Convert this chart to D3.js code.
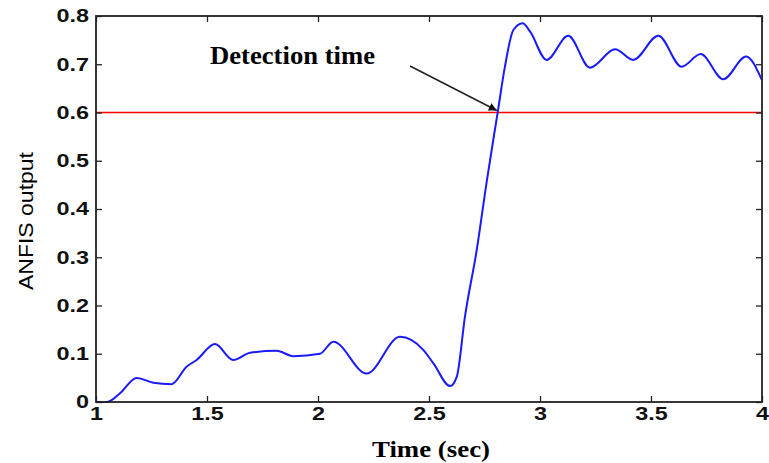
<!DOCTYPE html>
<html>
<head>
<meta charset="utf-8">
<script src="https://cdn.jsdelivr.net/npm/d3@7"></script>
<style>
  html, body { margin: 0; padding: 0; background: #fff; }
  svg { display: block; }
</style>
</head>
<body>
<svg id="chart" width="769" height="463"></svg>
<script>
// ANFIS output over time
const timeSec = [1.00, 1.05, 1.108, 1.183, 1.258, 1.34, 1.408, 1.453, 1.536, 1.618, 1.694, 1.814, 1.889, 2.009, 2.069, 2.219, 2.369, 2.474, 2.52, 2.595, 2.625, 2.662, 2.715, 2.761, 2.81, 2.842, 2.88, 2.922, 2.955, 3.03, 3.127, 3.225, 3.338, 3.42, 3.533, 3.638, 3.724, 3.826, 3.928, 4.00];
const anfisOut = [0.000, 0.000, 0.018, 0.050, 0.040, 0.037, 0.073, 0.087, 0.120, 0.087, 0.102, 0.106, 0.095, 0.100, 0.125, 0.059, 0.135, 0.108, 0.080, 0.033, 0.052, 0.177, 0.315, 0.46, 0.602, 0.695, 0.771, 0.785, 0.768, 0.709, 0.759, 0.693, 0.731, 0.709, 0.759, 0.695, 0.721, 0.669, 0.716, 0.667];
const threshold = 0.6;
const detectionTime = 2.81;
const xTicks = [1, 1.5, 2, 2.5, 3, 3.5, 4];
const yTicks = [0, 0.1, 0.2, 0.3, 0.4, 0.5, 0.6, 0.7, 0.8];

const svg = d3.select("#chart");
const m = { left: 96, top: 16, right: 762, bottom: 402 };

const x = d3.scaleLinear().domain([1, 4]).range([m.left, m.right]);
const y = d3.scaleLinear().domain([0, 0.8]).range([m.bottom, m.top]);

// Threshold line
svg.append("line")
  .attr("x1", x(1)).attr("x2", x(4))
  .attr("y1", y(threshold)).attr("y2", y(threshold))
  .attr("stroke", "#ff0000").attr("stroke-width", 1.6);

// Output curve
const line = d3.line()
  .x((d, i) => x(timeSec[i]))
  .y(d => y(d))
  .curve(d3.curveMonotoneX);

svg.append("path")
  .datum(anfisOut)
  .attr("d", line)
  .attr("fill", "none")
  .attr("stroke", "#1a1aff")
  .attr("stroke-width", 2);

// Axes with inward ticks on all four sides
const tickFmt = d => d === 0 ? "0" : d3.format("")(d);
const wide = 1.3; // tick labels are set in a widened bold sans
const axisStyle = g => {
  g.select(".domain").remove();
  g.selectAll(".tick line").attr("stroke", "#222").attr("stroke-width", 1.3);
};
const labelStyle = sel => sel
  .attr("font-family", "Liberation Sans, Arial, sans-serif")
  .attr("font-size", 18).attr("font-weight", "bold").attr("fill", "#111");

svg.append("g")
  .attr("transform", `translate(0,${m.bottom})`)
  .call(d3.axisBottom(x).tickValues(xTicks).tickSize(-6).tickPadding(5).tickFormat(tickFmt))
  .call(axisStyle)
  .call(g => g.selectAll(".tick text").call(labelStyle)
    .attr("transform", `scale(${wide},1)`));

svg.append("g")
  .attr("transform", `translate(0,${m.top})`)
  .call(d3.axisTop(x).tickValues(xTicks).tickSize(-6).tickFormat(""))
  .call(axisStyle);

svg.append("g")
  .attr("transform", `translate(${m.left},0)`)
  .call(d3.axisLeft(y).tickValues(yTicks).tickSize(-6).tickPadding(7).tickFormat(tickFmt))
  .call(axisStyle)
  .call(g => g.selectAll(".tick text").call(labelStyle)
    .attr("x", -7 / wide)
    .attr("transform", `scale(${wide},1)`));

svg.append("g")
  .attr("transform", `translate(${m.right},0)`)
  .call(d3.axisRight(y).tickValues(yTicks).tickSize(-6).tickFormat(""))
  .call(axisStyle);

// Frame
svg.append("rect")
  .attr("x", m.left).attr("y", m.top)
  .attr("width", m.right - m.left).attr("height", m.bottom - m.top)
  .attr("fill", "none").attr("stroke", "#222").attr("stroke-width", 1.8);

// Axis titles
svg.append("text")
  .attr("x", 372).attr("y", 457)
  .attr("textLength", 118).attr("lengthAdjust", "spacingAndGlyphs")
  .attr("font-family", "Liberation Serif, Times New Roman, serif")
  .attr("font-size", 23).attr("font-weight", "bold")
  .text("Time (sec)");

svg.append("text")
  .attr("transform", "translate(33,290) rotate(-90)")
  .attr("textLength", 138).attr("lengthAdjust", "spacingAndGlyphs")
  .attr("font-family", "Liberation Sans, Arial, sans-serif")
  .attr("font-size", 21)
  .text("ANFIS output");

// Annotation with arrow
const defs = svg.append("defs");
defs.append("marker")
  .attr("id", "arrowHead")
  .attr("viewBox", "0 0 10 10")
  .attr("refX", 10).attr("refY", 5)
  .attr("markerWidth", 13).attr("markerHeight", 8)
  .attr("markerUnits", "userSpaceOnUse")
  .attr("orient", "auto")
  .append("path").attr("d", "M0,0 L10,5 L0,10 z").attr("fill", "#111");

svg.append("text")
  .attr("x", 210).attr("y", 64)
  .attr("textLength", 165).attr("lengthAdjust", "spacingAndGlyphs")
  .attr("font-family", "Liberation Serif, Times New Roman, serif")
  .attr("font-size", 25).attr("font-weight", "bold")
  .text("Detection time");

svg.append("line")
  .attr("x1", 410).attr("y1", 66)
  .attr("x2", x(detectionTime) - 1).attr("y2", y(threshold) - 2)
  .attr("stroke", "#222").attr("stroke-width", 1.6)
  .attr("marker-end", "url(#arrowHead)");
</script>
</body>
</html>
